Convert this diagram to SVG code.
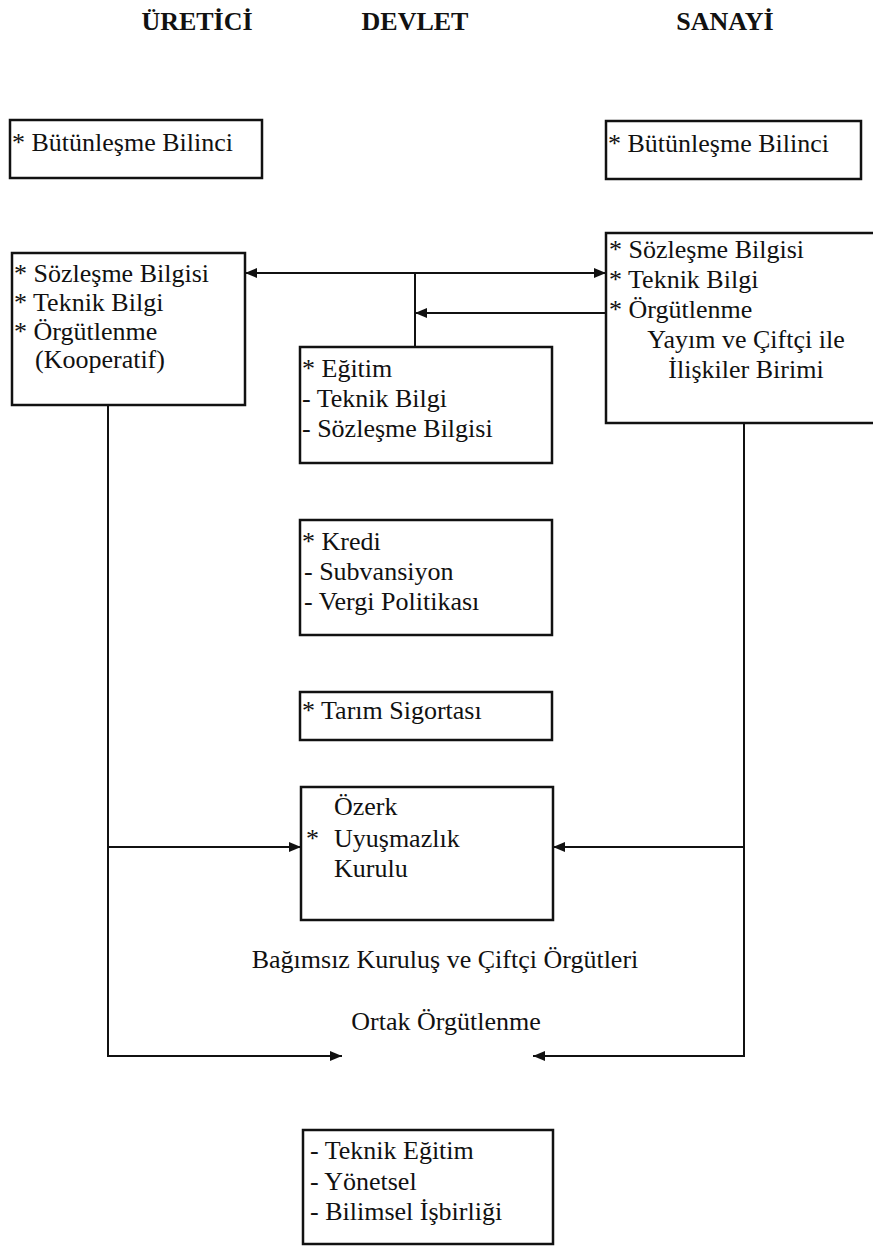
<svg xmlns="http://www.w3.org/2000/svg" width="873" height="1247" viewBox="0 0 873 1247">
<defs>
<style>
text{font-family:"Liberation Serif","Times New Roman",serif;font-size:26px;fill:#111}
.h{font-weight:bold;text-anchor:middle}
.c{text-anchor:middle}
rect{fill:none;stroke:#111;stroke-width:2.5}
.conn path{fill:none;stroke:#111;stroke-width:2}
</style>
<marker id="ah" viewBox="0 0 12 10" markerWidth="12" markerHeight="10" refX="12" refY="5" orient="auto-start-reverse" markerUnits="userSpaceOnUse">
<path d="M0,0 L12,5 L0,10 z" fill="#111"/>
</marker>
</defs>
<rect x="0" y="0" width="873" height="1247" style="fill:#fff;stroke:none"/>
<g id="headers">
<text class="h" x="197" y="30">ÜRETİCİ</text>
<text class="h" x="415" y="30">DEVLET</text>
<text class="h" x="725" y="30">SANAYİ</text>
</g>
<g id="uretici-butunlesme">
<rect x="10" y="120" width="252" height="58"/>
<text x="12" y="151">* Bütünleşme Bilinci</text>
</g>
<g id="sanayi-butunlesme">
<rect x="606" y="121" width="255" height="58"/>
<text x="608" y="152">* Bütünleşme Bilinci</text>
</g>
<g id="uretici-bilgi">
<rect x="12" y="253" width="233" height="152"/>
<text x="14" y="282">* Sözleşme Bilgisi</text>
<text x="14" y="311">* Teknik Bilgi</text>
<text x="14" y="340">* Örgütlenme</text>
<text x="35" y="368">(Kooperatif)</text>
</g>
<g id="sanayi-bilgi">
<rect x="606" y="233" width="272" height="190"/>
<text x="609" y="258">* Sözleşme Bilgisi</text>
<text x="609" y="288">* Teknik Bilgi</text>
<text x="609" y="318">* Örgütlenme</text>
<text class="c" x="746" y="348">Yayım ve Çiftçi ile</text>
<text class="c" x="746" y="378">İlişkiler Birimi</text>
</g>
<g id="egitim">
<rect x="300" y="347" width="252" height="116"/>
<text x="302" y="377">* Eğitim</text>
<text x="302" y="407"> - Teknik Bilgi</text>
<text x="302" y="437"> - Sözleşme Bilgisi</text>
</g>
<g id="kredi">
<rect x="300" y="520" width="252" height="115"/>
<text x="302" y="550">* Kredi</text>
<text x="304" y="580">- Subvansiyon</text>
<text x="304" y="610">- Vergi Politikası</text>
</g>
<g id="sigorta">
<rect x="300" y="692" width="252" height="48"/>
<text x="302" y="719">* Tarım Sigortası</text>
</g>
<g id="ozerk">
<rect x="301" y="787" width="252" height="133"/>
<text x="334" y="815">Özerk</text>
<text x="306" y="847">*</text>
<text x="334" y="847">Uyuşmazlık</text>
<text x="334" y="877">Kurulu</text>
</g>
<g id="bagimsiz">
<text class="c" x="445" y="968">Bağımsız Kuruluş ve Çiftçi Örgütleri</text>
</g>
<g id="ortak">
<text class="c" x="446" y="1030">Ortak Örgütlenme</text>
</g>
<g id="isbirligi">
<rect x="303" y="1130" width="250" height="114"/>
<text x="310" y="1159">- Teknik Eğitim</text>
<text x="310" y="1190">- Yönetsel</text>
<text x="310" y="1220">- Bilimsel İşbirliği</text>
</g>
<g id="connectors" class="conn">
<path d="M245,273 L606,273" marker-start="url(#ah)" marker-end="url(#ah)"/>
<path d="M415,273 L415,347"/>
<path d="M606,313 L415,313" marker-end="url(#ah)"/>
<path d="M108,405 L108,1056 L342,1056" marker-end="url(#ah)"/>
<path d="M108,847 L301,847" marker-end="url(#ah)"/>
<path d="M744,423 L744,1056 L533,1056" marker-end="url(#ah)"/>
<path d="M744,847 L553,847" marker-end="url(#ah)"/>
</g>
</svg>
